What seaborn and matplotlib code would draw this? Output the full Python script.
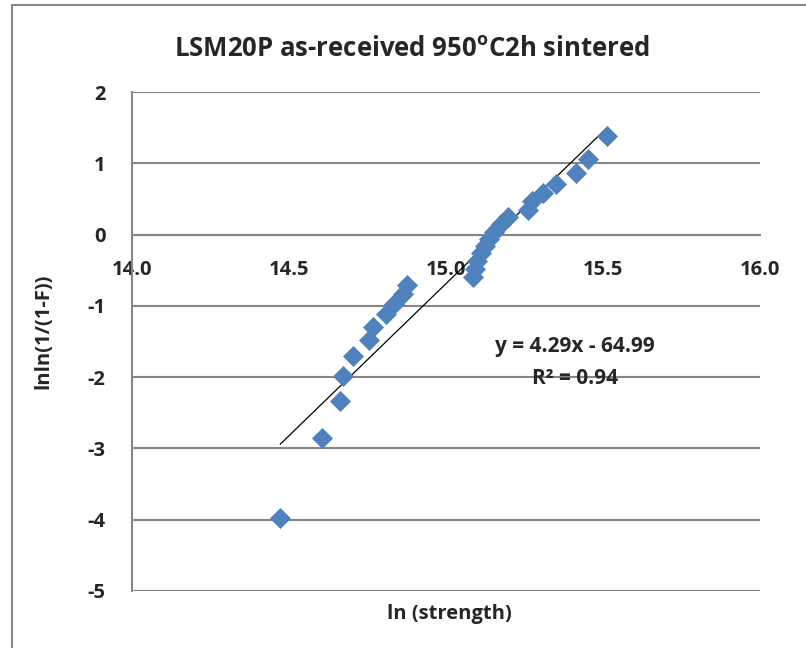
import numpy as np
import pandas as pd
import matplotlib
matplotlib.use("Agg")
import matplotlib.pyplot as plt
import matplotlib.patches as patches
import seaborn as sns

# ln(strength) and lnln(1/(1-F))
ln_strength = [14.472, 14.606, 14.663, 14.673, 14.705, 14.756, 14.769, 14.810, 14.833,
               14.864, 14.877, 15.085, 15.091, 15.100, 15.113, 15.123, 15.136, 15.152,
               15.174, 15.199, 15.260, 15.273, 15.308, 15.349, 15.413, 15.451, 15.512]
lnln_F = [-3.98, -2.86, -2.33, -1.98, -1.70, -1.48, -1.29, -1.12, -0.97,
          -0.84, -0.71, -0.59, -0.48, -0.37, -0.26, -0.16, -0.06, 0.04,
          0.15, 0.25, 0.35, 0.47, 0.58, 0.71, 0.87, 1.06, 1.38]
x_ticks = [14.0, 14.5, 15.0, 15.5, 16.0]
y_ticks = [-5, -4, -3, -2, -1, 0, 1, 2]
title = "LSM20P as-received 950$^{\\mathbf{o}}$C2h sintered"
eq_text = "y = 4.29x - 64.99\nR\u00b2 = 0.94"

data = pd.DataFrame({"ln_strength": ln_strength, "lnlnF": lnln_F})

sns.set_style("white")
plt.rcParams["font.family"] = ["Open Sans", "DejaVu Sans"]
plt.rcParams["font.weight"] = "bold"
plt.rcParams["mathtext.fontset"] = "custom"
plt.rcParams["mathtext.bf"] = "Open Sans:bold"
plt.rcParams["mathtext.rm"] = "Open Sans:bold"

grey = "#868686"
blue = "#4F81BD"

fig = plt.figure(figsize=(8.06, 6.48), dpi=100)
ax = fig.add_axes([132 / 806, 1 - 591 / 648, 628 / 806, 499 / 648])

sns.regplot(data=data, x="ln_strength", y="lnlnF", ax=ax, scatter=False, ci=None,
            line_kws={"color": "black", "lw": 0.9})
sns.scatterplot(data=data, x="ln_strength", y="lnlnF", ax=ax, marker="D", s=115,
                color=blue, edgecolor=blue, linewidth=0, zorder=3)

ax.set_xlim(14, 16)
ax.set_ylim(-5, 2)
ax.set_xticks(x_ticks)
ax.set_xticklabels([f"{t:.1f}" for t in x_ticks])
ax.set_yticks(y_ticks)
ax.set_yticklabels([str(t) for t in y_ticks])

ax.yaxis.grid(True, color=grey, lw=1.5)
ax.xaxis.grid(False)
ax.set_axisbelow(True)
for side in ["top", "right"]:
    ax.spines[side].set_visible(False)
ax.spines["left"].set_color(grey)
ax.spines["left"].set_linewidth(1.5)
ax.spines["bottom"].set_position(("data", 0))
ax.spines["bottom"].set_color(grey)
ax.spines["bottom"].set_linewidth(1.5)
ax.tick_params(axis="x", length=0, pad=18, labelsize=14.5)
ax.tick_params(axis="y", length=0, pad=19, labelsize=14.5)
for lbl in ax.get_xticklabels() + ax.get_yticklabels():
    lbl.set_fontweight("bold")

# title is centred on the whole chart area, not on the plot area
ax.set_title(title, fontsize=18.5, fontweight="bold", pad=26, x=0.446)
ax.set_xlabel("ln (strength)", fontsize=14.5, fontweight="bold")
ax.xaxis.set_label_coords(0.505, -0.027)
ax.set_ylabel("lnln(1/(1-F))", fontsize=14.5, fontweight="bold")
ax.yaxis.set_label_coords(-0.125, 0.52)

ax.text(15.41, -1.79, eq_text, ha="center", va="center", fontsize=15,
        fontweight="bold", linespacing=1.7)

border = patches.Rectangle((12 / 806, -0.1), 1.2, (643 / 648) + 0.1,
                           transform=fig.transFigure, fill=False,
                           edgecolor=grey, lw=1.5)
fig.add_artist(border)

fig.savefig("out.png", dpi=100)
